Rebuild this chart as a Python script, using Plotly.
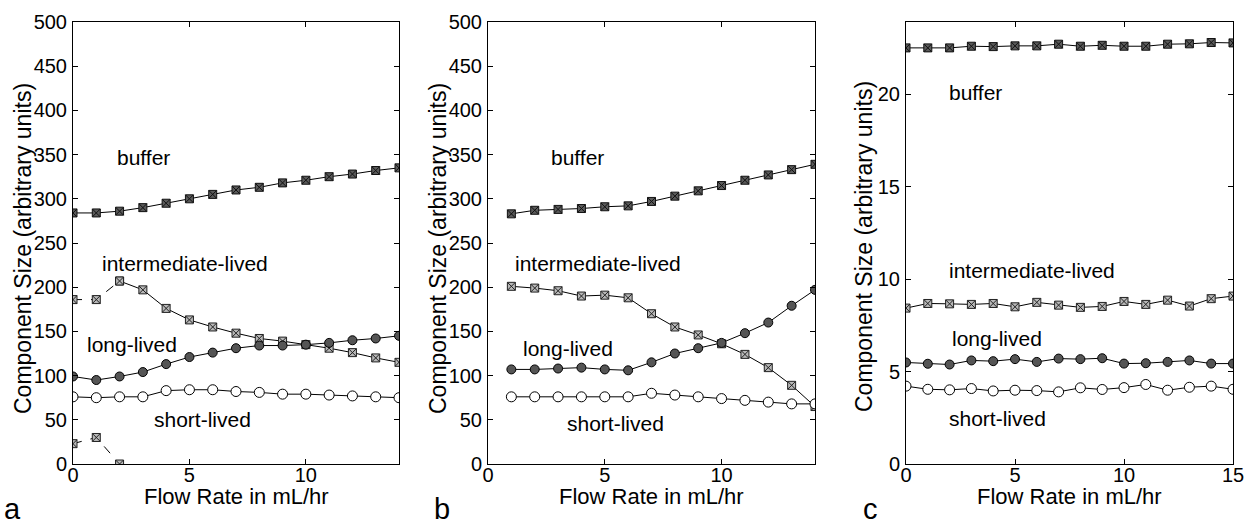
import plotly.graph_objects as go

# ---------------- data ----------------
# Panel a
xa = list(range(0, 15))
a_buffer = [284, 284, 286, 290, 295, 300, 305, 310, 313, 318, 321, 325, 328, 332, 335]
a_inter = [186, 186, 207, 197, 176, 163, 155, 148, 142, 139, 135, 131, 126, 120, 115]
a_inter_low_x = [0, 1, 2]
a_inter_low = [23, 30, 0]
a_long = [99, 95, 99, 104, 113, 121, 126, 131, 134, 134, 135, 137, 140, 142, 145]
a_short = [76, 75, 76, 76, 83, 84, 84, 82, 81, 79, 79, 78, 77, 76, 75]

# Panel b
xb = list(range(1, 15))
b_buffer = [283, 287, 288, 289, 291, 292, 297, 303, 309, 315, 321, 327, 333, 339]
b_inter = [201, 199, 196, 190, 191, 188, 170, 155, 146, 136, 124, 109, 89, 65]
b_long = [107, 107, 108, 109, 107, 106, 115, 125, 131, 137, 148, 160, 179, 197]
b_short = [76, 76, 76, 76, 76, 76, 80, 78, 76, 74, 72, 70, 68, 68]

# Panel c
xc = list(range(0, 16))
c_buffer = [22.50, 22.50, 22.50, 22.59, 22.57, 22.61, 22.61, 22.70, 22.59, 22.64,
            22.59, 22.59, 22.70, 22.72, 22.79, 22.77]
c_inter = [8.43, 8.68, 8.66, 8.63, 8.68, 8.50, 8.74, 8.59, 8.47, 8.52, 8.79, 8.63,
           8.86, 8.54, 8.94, 9.08]
c_long = [5.49, 5.42, 5.38, 5.60, 5.56, 5.67, 5.52, 5.70, 5.67, 5.72, 5.43, 5.45,
          5.52, 5.60, 5.43, 5.43]
c_short = [4.21, 4.04, 4.01, 4.08, 3.95, 3.99, 3.97, 3.90, 4.12, 4.03, 4.13, 4.30,
           3.99, 4.15, 4.21, 4.04]

series_labels = ["buffer", "intermediate-lived", "long-lived", "short-lived"]
x_title = "Flow Rate in mL/hr"
y_title = "Component Size (arbitrary units)"
panel_letters = ["a", "b", "c"]

# ---------------- styling ----------------
FONT = "Liberation Sans, Arial, Helvetica, sans-serif"
W, H = 1246, 527

buf_m = dict(symbol="square-x", size=8, color="#5a5a5a", line=dict(color="#111", width=1))
int_m = dict(symbol="square-x", size=8, color="#b8b8b8", line=dict(color="#222", width=1))
long_m = dict(symbol="circle", size=9, color="#555555", line=dict(color="#000", width=1))
short_m = dict(symbol="circle", size=10, color="white", line=dict(color="#000", width=1))

fig = go.Figure()


def add(x, y, m, xa_id, ya_id, dash="solid"):
    fig.add_trace(go.Scatter(x=x, y=y, mode="lines+markers", marker=m,
                             line=dict(color="black", width=1, dash=dash),
                             xaxis=xa_id, yaxis=ya_id, showlegend=False,
                             hoverinfo="x+y"))


# panel a
add(xa, a_buffer, buf_m, "x", "y")
add(xa[:3], a_inter[:3], int_m, "x", "y", dash="dash")
add(xa[2:], a_inter[2:], int_m, "x", "y")
add(a_inter_low_x, a_inter_low, int_m, "x", "y", dash="dash")
add(xa, a_long, long_m, "x", "y")
add(xa, a_short, short_m, "x", "y")

# panel b
add(xb, b_buffer, buf_m, "x2", "y2")
add(xb, b_inter, int_m, "x2", "y2")
add(xb, b_long, long_m, "x2", "y2")
add(xb, b_short, short_m, "x2", "y2")

# panel c
add(xc, c_buffer, buf_m, "x3", "y3")
add(xc, c_inter, int_m, "x3", "y3")
add(xc, c_long, long_m, "x3", "y3")
add(xc, c_short, short_m, "x3", "y3")

top, bot = 22, 464
ydom = [1 - bot / H, 1 - top / H]
doms = [[73 / W, 399 / W], [488 / W, 815 / W], [906 / W, 1233 / W]]

axis_common = dict(showline=True, linecolor="black", linewidth=1, mirror="ticks",
                   ticks="inside", ticklen=5, tickcolor="black", showgrid=False,
                   zeroline=False, automargin=False,
                   tickfont=dict(family=FONT, size=20, color="black"))
xtick_extra = dict(ticklabelstandoff=-7)
ytick_extra = dict(ticklabelstandoff=1)

layout = dict(
    template="none",
    width=W, height=H, margin=dict(l=0, r=0, t=0, b=0, autoexpand=False),
    paper_bgcolor="white", plot_bgcolor="white",
    font=dict(family=FONT, color="black"),
    xaxis=dict(domain=doms[0], range=[0, 14], tickvals=[0, 5, 10], anchor="y",
               **axis_common, **xtick_extra),
    yaxis=dict(domain=ydom, range=[0, 500], tickvals=list(range(0, 501, 50)), anchor="x",
               **axis_common, **ytick_extra),
    xaxis2=dict(domain=doms[1], range=[0, 14], tickvals=[0, 5, 10], anchor="y2",
                **axis_common, **xtick_extra),
    yaxis2=dict(domain=ydom, range=[0, 500], tickvals=list(range(0, 501, 50)), anchor="x2",
                **axis_common, **ytick_extra),
    xaxis3=dict(domain=doms[2], range=[0, 15], tickvals=[0, 5, 10, 15], anchor="y3",
                **axis_common, **xtick_extra),
    yaxis3=dict(domain=ydom, range=[0, 23.9], tickvals=[0, 5, 10, 15, 20], anchor="x3",
                **axis_common, **ytick_extra),
)
fig.update_layout(**layout)

LBL = dict(family=FONT, size=21, color="black")
ann = []
label_pos = {
    ("x", "y"): [(1.8, 347), (1.15, 227), (0.5, 135), (3.4, 50)],
    ("x2", "y2"): [(2.6, 347), (1.05, 227), (1.4, 131), (3.3, 46)],
    ("x3", "y3"): [(1.9, 20.1), (1.9, 10.45), (2.0, 6.78), (1.9, 2.47)],
}
for (xr, yr), pts in label_pos.items():
    for txt, (px, py) in zip(series_labels, pts):
        ann.append(dict(x=px, y=py, xref=xr, yref=yr, text=txt, showarrow=False,
                        xanchor="left", yanchor="middle", font=LBL))

TT = dict(family=FONT, size=22, color="black")
TY = dict(family=FONT, size=23, color="black")
for d in doms:
    ann.append(dict(x=(d[0] + d[1]) / 2, y=1 - 496 / H, xref="paper", yref="paper",
                    text=x_title, showarrow=False, xanchor="center", yanchor="middle",
                    font=TT))
for xp, yp in [(23, 249), (438, 249), (864, 246)]:
    ann.append(dict(x=xp / W, y=1 - yp / H, xref="paper", yref="paper", text=y_title,
                    textangle=-90, showarrow=False, xanchor="center", yanchor="middle",
                    font=TY))
for letter, xp in zip(panel_letters, [12, 442, 870]):
    ann.append(dict(x=xp / W, y=0, xref="paper", yref="paper", text=letter,
                    showarrow=False, xanchor="center", yanchor="bottom",
                    font=dict(family=FONT, size=29, color="black")))
fig.update_layout(annotations=ann)

fig.write_html("out.html")
